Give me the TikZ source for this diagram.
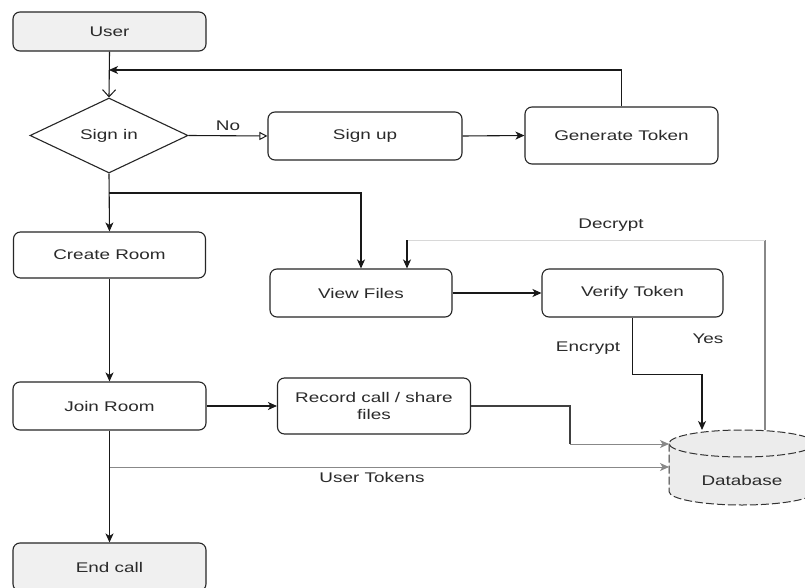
\documentclass[tikz,border=0pt]{standalone}
\usepackage{fontspec}
\setmainfont{Liberation Sans}[FakeStretch=1.35]
\usetikzlibrary{arrows.meta,shapes.geometric,calc}
\definecolor{boxfill}{HTML}{F0F0F0}
\definecolor{dbfill}{HTML}{ECECEC}
\definecolor{linegray}{HTML}{888888}
\definecolor{faintgray}{HTML}{D8D8D8}
\definecolor{txt}{HTML}{2A2A2A}
\begin{document}
\begin{tikzpicture}[x=1pt,y=-1pt,
  font=\fontsize{14}{16}\selectfont, text=txt,
  stepbox/.style={draw=black!85, rounded corners=7pt, line width=1.1pt, inner sep=2pt, align=center},
  termbox/.style={stepbox, fill=boxfill},
  decbox/.style={diamond, draw=black!85, line width=1.1pt, inner sep=0pt},
  conn/.style={line width=1.1pt, draw=black!90},
  arr/.style={conn, -{Stealth[length=9pt,width=8pt,inset=2.5pt]}},
  lbl/.style={inner sep=1pt}
]
\useasboundingbox (0,0) rectangle (805,588);
\clip (0,0) rectangle (805,588);
\fill[white] (0,0) rectangle (805,588);

% nodes
\node[termbox, minimum width=193pt, minimum height=39pt] (user) at (109.5,31.5) {User};
\node[decbox, minimum width=158pt, minimum height=75pt] (signin) at (109,135.5) {Sign in};
\node[stepbox, minimum width=194pt, minimum height=48pt] (signup) at (365,136) {Sign up};
\node[stepbox, minimum width=193pt, minimum height=57pt] (gen) at (621.5,135.5) {Generate Token};
\node[stepbox, minimum width=192pt, minimum height=46pt] (create) at (109.5,255) {Create Room};
\node[stepbox, minimum width=182pt, minimum height=48pt] (view) at (361,293) {View Files};
\node[stepbox, minimum width=181pt, minimum height=48pt] (verify) at (632.5,293) {Verify Token};
\node[stepbox, minimum width=193pt, minimum height=48pt] (join) at (109.5,406) {Join Room};
\node[stepbox, minimum width=193pt, minimum height=56pt, inner sep=1pt] (rec) at (374,406) {Record call / share\\[1pt]files};
\node[termbox, minimum width=193pt, minimum height=48pt] (endc) at (109.5,567) {End call};

% database cylinder
\fill[dbfill] (669,443.5) -- (669,491.5) arc[start angle=180, end angle=0, x radius=73, y radius=13.5] -- (815,443.5) arc[start angle=0, end angle=-180, x radius=73, y radius=13.5] -- cycle;
\draw[black!80, line width=1pt, dash pattern=on 8pt off 3pt] (669,443.5) -- (669,491.5) arc[start angle=180, end angle=0, x radius=73, y radius=13.5] -- (815,443.5);
\draw[black!80, line width=1pt, dash pattern=on 8pt off 3pt] (742,443.5) ellipse [x radius=73, y radius=13.5];
\node[minimum width=146pt, minimum height=40pt] (db) at (742,480) {Database};

% coordinates
\coordinate (fb) at (109,70);
\coordinate (split) at (109,193);
\coordinate (split2) at (109,467);
\coordinate (dbtopA) at (702,430);
\coordinate (dbtopB) at (765,430);
\coordinate (dbleftA) at (669,444);
\coordinate (dbleftB) at (669,467);
\coordinate (dec) at (407,240);
\coordinate (decR) at (765,240);
\coordinate (recbend) at (570,406);

% connectors
\draw[conn, -{Straight Barb[length=7pt,width=13pt,line width=1pt]}] (user.south) -- (signin.north);
\draw[arr] (gen.north) |- (fb);
\draw[conn, -{Triangle[open,length=8pt,width=8pt,line width=1pt]}] (signin.east) -- (signup.west)
  node[lbl, midway, above=4pt] {No};
\draw[arr] (signup.east) -- (gen.west);
\draw[arr] (signin.south) -- (create.north);
\draw[arr] (split) -| (view.north);
\draw[arr] (create.south) -- (join.north);
\draw[arr] (view.east) -- (verify.west);
\draw[arr] (verify.south) -- ++(0,57) -| (dbtopA);
\draw[conn, draw=linegray] (dbtopB) -- (decR);
\draw[conn, draw=faintgray, line width=0.8pt] (decR) -- (dec);
\draw[arr] (dec) -- (dec |- view.north);
\draw[arr] (join.east) -- (rec.west);
\draw[conn, draw=black!75] (rec.east) -- (recbend) -- (recbend |- dbleftA);
\draw[arr, draw=linegray, line width=0.9pt] (recbend |- dbleftA) -- (dbleftA);
\draw[arr, draw=linegray, line width=0.9pt] (split2) -- (dbleftB);
\draw[arr] (join.south) -- (endc.north);

% labels
\node[lbl] at (611,225) {Decrypt};
\node[lbl] at (588,348) {Encrypt};
\node[lbl] at (708,339) {Yes};
\node[lbl] at (372,477) {User Tokens};
\end{tikzpicture}
\end{document}
